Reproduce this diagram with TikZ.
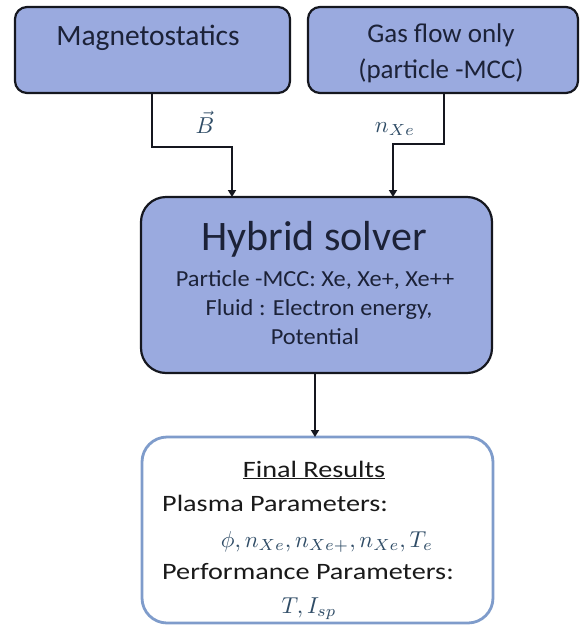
\documentclass[tikz,border=0pt]{standalone}
\usepackage{graphicx}
\usepackage{fontspec}
\setmainfont{Carlito}
\newfontfamily\resfont[FakeStretch=1.2]{Carlito}
\newfontfamily\midfont[FakeStretch=1.06]{Carlito}
\usetikzlibrary{arrows.meta}
\definecolor{boxfill}{HTML}{9AAADF}
\definecolor{boxline}{HTML}{15171F}
\definecolor{txt}{HTML}{1C2238}
\definecolor{restxt}{HTML}{1A1A1A}
\definecolor{mathc}{HTML}{2F4C66}
\definecolor{resline}{HTML}{7F9CCB}
\newcommand{\bigmath}[1]{\scalebox{2.3}{$#1$}}
\begin{document}
\begin{tikzpicture}[x=1pt,y=-1pt,
  procbox/.style={draw=boxline, line width=2.2pt, fill=boxfill, inner sep=0pt, outer sep=0pt},
  resbox/.style={draw=resline, line width=2.8pt, fill=white, rounded corners=25pt, inner sep=0pt, outer sep=0pt},
  toptxt/.style={text=txt, inner sep=0pt, anchor=base, font=\fontsize{27}{32}\selectfont},
  bigtxt/.style={text=txt, inner sep=0pt, anchor=base, font=\fontsize{42}{48}\selectfont},
  midtxt/.style={text=txt, inner sep=0pt, anchor=base, font=\midfont\fontsize{23}{27}\selectfont},
  restext/.style={text=restxt, inner sep=0pt, font=\resfont\fontsize{23.5}{27}\selectfont},
  mathlbl/.style={text=mathc, inner sep=0pt, anchor=base},
  conn/.style={draw=boxline, line width=2pt, -{Triangle[width=8pt,length=7pt]}}
]
\useasboundingbox (0,0) rectangle (582,625);

% top boxes
\node[procbox, rounded corners=12pt, minimum width=275pt, minimum height=86pt] (mag) at (152.5,50) {};
\node[toptxt, font=\fontsize{29.5}{34}\selectfont] (magt) at (148,45) {Magnetostatics};
\node[procbox, rounded corners=12pt, minimum width=270pt, minimum height=86pt] (gas) at (443,50) {};
\node[toptxt] (gast1) at (441,42) {Gas flow only};
\node[toptxt] (gast2) at (441,78) {(particle -MCC)};

% hybrid solver
\node[procbox, rounded corners=25pt, minimum width=351pt, minimum height=176pt] (hyb) at (316.5,285) {};
\node[bigtxt] (hybt) at (314,250) {Hybrid solver};
\node[midtxt] (hyb1) at (315,286) {Particle -MCC: Xe, Xe+, Xe++};
\node[midtxt] (hyb2) at (319,315) {Fluid : Electron energy,};
\node[midtxt] (hyb3) at (315,344) {Potential};

% final results
\node[resbox, minimum width=351pt, minimum height=186pt] (res) at (317.5,530) {};
\node[restext, anchor=base] (rest) at (314,477) {\underline{Final Results}};
\node[restext, anchor=base west] (resp) at (162,511) {Plasma Parameters:};
\node[mathlbl] (resm) at (327,547) {\bigmath{\phi, n_{Xe}, n_{Xe+}, n_{Xe}, T_e}};
\node[restext, anchor=base west] (resq) at (162,579) {Performance Parameters:};
\node[mathlbl] (resn) at (309,613) {\bigmath{T, I_{sp}}};

% connectors
\coordinate (m1) at (152,147);
\coordinate (m2) at (232,147);
\coordinate (g1) at (444,144);
\coordinate (g2) at (393,144);
\draw[conn] (mag.south -| m1) -- (m1) -- (m2) -- (hyb.north -| m2);
\draw[conn] (gas.south -| g1) -- (g1) -- (g2) -- (hyb.north -| g2);
\draw[conn] (hyb.south -| 315,0) -- (res.north -| 315,0);

\node[mathlbl] (lblb) at (205,133) {\bigmath{\vec{B}}};
\node[mathlbl] (lbln) at (395,132) {\bigmath{n_{Xe}}};
\end{tikzpicture}
\end{document}
